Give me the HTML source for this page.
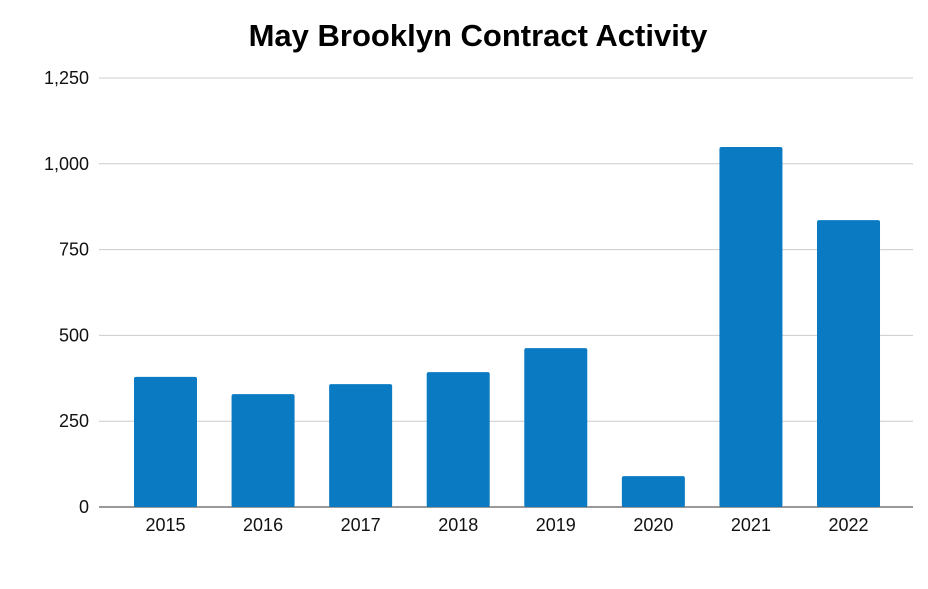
<!DOCTYPE html>
<html><head><meta charset="utf-8"><style>
html,body{margin:0;padding:0;background:#fff;}
svg{display:block;font-family:"Liberation Sans",Arial,sans-serif;}
</style></head><body>
<svg id="chart" width="928" height="589">
<text x="478" y="46" text-anchor="middle" font-size="31" font-weight="bold" fill="#000">May Brooklyn Contract Activity</text>
<g id="grid"></g><g id="bars"></g><g id="xlabels"></g><g id="ylabels"></g>
</svg>
<script>
const categories=["2015","2016","2017","2018","2019","2020","2021","2022"];
const values=[379,329,358,393,463,90,1049,836];
const yTicks=[0,250,500,750,1000,1250];
const yTickLabels=["0","250","500","750","1,000","1,250"];
const L=99,R=913,T=78,B=507,yMax=1250;
const BL=116.7,BR=897.3;
const NS="http://www.w3.org/2000/svg";
function y(v){return B-(v/yMax)*(B-T);}
const band=(BR-BL)/categories.length;
function xc(i){return BL+band*(i+0.5);}
function mk(t,a,p){const e=document.createElementNS(NS,t);for(const k in a)e.setAttribute(k,a[k]);document.getElementById(p).appendChild(e);return e;}
yTicks.forEach((t,i)=>{
 const ln=mk("line",{x1:L,x2:R,y1:y(t),y2:y(t),stroke:t===0?"#333":"#ccc","stroke-width":1},"grid");
 
 
 const tx=mk("text",{x:89,y:y(t)+6,"text-anchor":"end","font-size":18,fill:"#111"},"ylabels");
 tx.textContent=yTickLabels[i];
 
 
});
categories.forEach((c,i)=>{
 const bw=63;
 const r=mk("rect",{x:xc(i)-bw/2,y:y(values[i]),width:bw,height:B-y(values[i]),fill:"#0a7bc2",rx:2},"bars");
 
 
 const tx=mk("text",{x:xc(i),y:531,"text-anchor":"middle","font-size":18,fill:"#111"},"xlabels");
 tx.textContent=c;
 
 
});
</script>
</body></html>
